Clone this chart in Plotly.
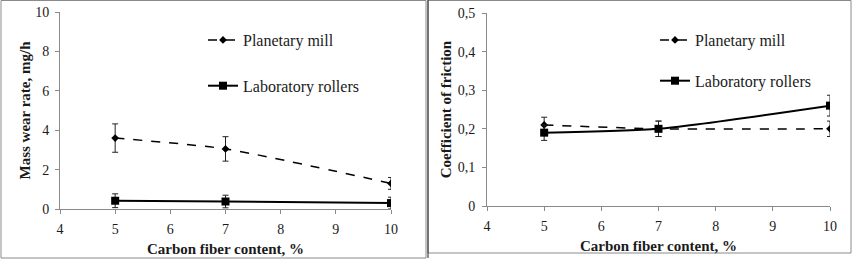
import plotly.graph_objects as go

W, H = 857, 262

carbon = [5, 7, 10]
wear_planetary = [3.6, 3.05, 1.3]
wear_planetary_err = [0.72, 0.62, 0.3]
wear_rollers = [0.42, 0.38, 0.3]
wear_rollers_err = [0.35, 0.32, 0.3]

fric_planetary = [0.21, 0.20, 0.20]
fric_planetary_err = [0.02, 0.02, 0.02]
fric_rollers = [0.19, 0.20, 0.26]
fric_rollers_err = [0.02, 0.02, 0.027]

fric_ticks = [0, 0.1, 0.2, 0.3, 0.4, 0.5]
fric_tick_labels = ["0", "0,1", "0,2", "0,3", "0,4", "0,5"]

FONT = "Liberation Serif"
fig = go.Figure()

def add(x, y, err, name, dash, symbol, msize, lw, xa, ya, legend):
    fig.add_trace(go.Scatter(
        x=x, y=y, name=name, mode="lines+markers",
        line=dict(color="black", width=lw, dash=dash, shape="spline", smoothing=0.6),
        marker=dict(symbol=symbol, size=msize, color="black"),
        error_y=dict(type="data", array=err, visible=True, color="#222", thickness=1, width=3),
        xaxis=xa, yaxis=ya, legend=legend, legendgroup=name + xa,
    ))

add(carbon, wear_planetary, wear_planetary_err, "Planetary mill", "dash", "diamond", 6, 1.5, "x", "y", "legend")
add(carbon, wear_rollers, wear_rollers_err, "Laboratory rollers", "solid", "square", 8, 2, "x", "y", "legend")
add(carbon, fric_planetary, fric_planetary_err, "Planetary mill", "dash", "diamond", 6, 1.5, "x2", "y2", "legend2")
add(carbon, fric_rollers, fric_rollers_err, "Laboratory rollers", "solid", "square", 8, 2, "x2", "y2", "legend2")

def px_x(p):
    return p / W

def px_y(p):
    return 1 - p / H

def axis_common(standoff):
    return dict(showline=True, linecolor="#8a8a8a", linewidth=1, showgrid=False, zeroline=False,
                ticks="outside", ticklen=4, tickcolor="#8a8a8a", automargin=False,
                ticklabelstandoff=standoff,
                tickfont=dict(family=FONT, size=14))

TITLE_FONT = dict(family=FONT, size=15)

fig.update_layout(
    width=W, height=H, margin=dict(l=0, r=0, t=0, b=0, autoexpand=False),
    paper_bgcolor="white", plot_bgcolor="white",
    font=dict(family=FONT, size=16, color="#1a1a1a"),
    showlegend=True,
    xaxis=dict(domain=[px_x(60), px_x(391)], range=[4, 10], dtick=1, anchor="y",
               title=dict(text="<b>Carbon fiber content, %</b>", font=TITLE_FONT, standoff=7),
               **axis_common(3)),
    yaxis=dict(domain=[px_y(209), px_y(12)], range=[0, 10], dtick=2, anchor="x",
               title=dict(text="<b>Mass wear rate, mg/h</b>", font=TITLE_FONT, standoff=0),
               **axis_common(3)),
    xaxis2=dict(domain=[px_x(487), px_x(830)], range=[4, 10], dtick=1, anchor="y2",
                title=dict(text="<b>Carbon fiber content, %</b>", font=TITLE_FONT, standoff=7),
                **axis_common(3)),
    yaxis2=dict(domain=[px_y(206), px_y(13)], range=[0, 0.5], tickvals=fric_ticks, ticktext=fric_tick_labels,
                anchor="x2",
                title=dict(text="<b>Coefficient of friction</b>", font=TITLE_FONT, standoff=2),
                **axis_common(4)),
    legend=dict(x=px_x(203), y=px_y(23), xanchor="left", yanchor="top", bgcolor="rgba(0,0,0,0)",
                font=dict(family=FONT, size=16), tracegroupgap=22, itemwidth=30),
    legend2=dict(x=px_x(655), y=px_y(23), xanchor="left", yanchor="top", bgcolor="rgba(0,0,0,0)",
                 font=dict(family=FONT, size=16), tracegroupgap=17, itemwidth=30),
)

fig.add_shape(type="rect", xref="paper", yref="paper", x0=px_x(1), x1=px_x(426), y0=px_y(258), y1=px_y(0.5),
              line=dict(color="#8a8a8a", width=1))
fig.add_shape(type="rect", xref="paper", yref="paper", x0=px_x(428), x1=px_x(851), y0=px_y(253), y1=px_y(0.5),
              line=dict(color="#8a8a8a", width=1))
fig.add_shape(type="line", xref="paper", yref="paper", x0=px_x(428), x1=px_x(428), y0=px_y(258), y1=px_y(0),
              line=dict(color="#222", width=1))

POST = (
    "document.body.style.margin='0';document.body.style.overflow='hidden';"
    "var s=document.createElement('style');"
    "s.textContent='.js-plotly-plot svg text{font-family:\"Liberation Serif\",serif !important;}';"
    "document.head.appendChild(s);"
)

fig.write_html("out.html", config={"displayModeBar": False}, post_script=POST)
